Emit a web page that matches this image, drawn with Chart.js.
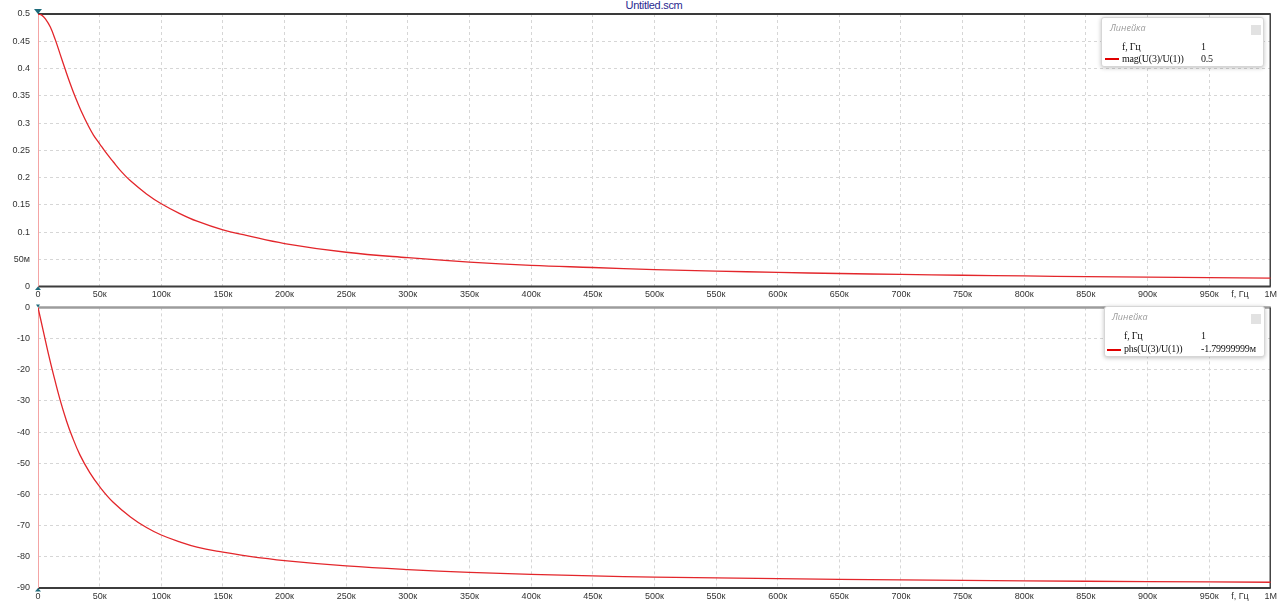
<!DOCTYPE html>
<html><head><meta charset="utf-8">
<script src="https://cdn.jsdelivr.net/npm/chart.js@4.4.1/dist/chart.umd.min.js"></script>
<style>
html,body{margin:0;padding:0;background:#fff;width:1280px;height:604px;overflow:hidden;position:relative;font-family:"Liberation Sans",Arial,sans-serif}
canvas{position:absolute;left:0}
#c1{top:0}
#c2{top:294px}
.title{position:absolute;left:0;width:1308px;text-align:center;top:-2px;font-size:11px;line-height:14px;letter-spacing:-0.3px;color:#2a2a90}
.box{position:absolute;box-sizing:border-box;background:#fff;border:1px solid #d6d6d6;border-radius:3px;box-shadow:0 1px 4px rgba(0,0,0,.25);font-family:"Liberation Serif","Times New Roman",serif;font-size:10px;letter-spacing:-0.2px;color:#111}
.hdr{position:absolute;font-family:"Open Sans",sans-serif;font-size:9px;line-height:12px;color:#9a9a9a;font-style:italic;letter-spacing:0}
.cls{position:absolute;width:10px;height:10px;background:#e2e2e2}
.row{position:absolute;white-space:nowrap;line-height:12px}
.ln{position:absolute;height:2px;width:14px;background:#e00000}
</style></head>
<body>
<div class="title">Untitled.scm</div>
<canvas id="c1" width="1280" height="300"></canvas>
<canvas id="c2" width="1280" height="310"></canvas>

<div class="box" style="left:1101px;top:17px;width:163px;height:50px">
  <div class="hdr" style="left:8px;top:4px">Линейка</div>
  <div class="cls" style="left:149px;top:7px"></div>
  <div class="row" style="left:20px;top:23px">f, Гц</div>
  <div class="row" style="left:99px;top:23px">1</div>
  <div class="ln" style="left:3px;top:40px"></div>
  <div class="row" style="left:20px;top:35px">mag(U(3)/U(1))</div>
  <div class="row" style="left:99px;top:35px">0.5</div>
</div>
<div class="box" style="left:1104px;top:306px;width:161px;height:51px">
  <div class="hdr" style="left:7px;top:4px">Линейка</div>
  <div class="cls" style="left:146px;top:7px"></div>
  <div class="row" style="left:19px;top:23px">f, Гц</div>
  <div class="row" style="left:96px;top:23px">1</div>
  <div class="ln" style="left:2px;top:42px"></div>
  <div class="row" style="left:19px;top:36px">phs(U(3)/U(1))</div>
  <div class="row" style="left:96px;top:36px">-1.79999999м</div>
</div>

<script>
// ---- data ----
const freqMagKHz = [0, 3, 6, 10, 14, 18, 22, 26, 30, 35, 41, 45, 50, 55, 61, 68, 75, 88, 100, 115, 129, 150, 169, 200, 250, 300, 350, 400, 450, 500, 550, 600, 650, 700, 750, 800, 850, 900, 950, 1000];
const magValues  = [0.500, 0.498, 0.491, 0.476, 0.453, 0.426, 0.399, 0.373, 0.349, 0.322, 0.294, 0.278, 0.262, 0.246, 0.229, 0.210, 0.194, 0.170, 0.152, 0.134, 0.120, 0.104, 0.094, 0.079, 0.063, 0.053, 0.045, 0.039, 0.035, 0.031, 0.0285, 0.026, 0.024, 0.0223, 0.0208, 0.0195, 0.0184, 0.0173, 0.0164, 0.0156];

const freqPhsKHz = [0, 4.3, 8.4, 12.4, 17.8, 23.2, 27.3, 34, 42, 50, 61, 75, 88, 100, 115, 129, 150, 169, 200, 250, 300, 350, 400, 450, 500, 600, 700, 800, 900, 1000];
const phsValues  = [0, -7.6, -14.8, -21.3, -29.5, -36.5, -41, -47.3, -53, -57.5, -62.5, -67.2, -70.6, -73, -75.2, -76.9, -78.5, -79.7, -81.2, -82.9, -84.1, -85, -85.6, -86.1, -86.5, -87, -87.4, -87.7, -87.95, -88.15];

const xTickValues = [0, 50000, 100000, 150000, 200000, 250000, 300000, 350000, 400000, 450000, 500000, 550000, 600000, 650000, 700000, 750000, 800000, 850000, 900000, 950000, 975000, 1000000];
const xTickLabels = ['0', '50к', '100к', '150к', '200к', '250к', '300к', '350к', '400к', '450к', '500к', '550к', '600к', '650к', '700к', '750к', '800к', '850к', '900к', '950к', 'f, Гц', '1M'];

const magTickValues = [0, 0.05, 0.1, 0.15, 0.2, 0.25, 0.3, 0.35, 0.4, 0.45, 0.5];
const magTickLabels = ['0', '50м', '0.1', '0.15', '0.2', '0.25', '0.3', '0.35', '0.4', '0.45', '0.5'];

const phsTickValues = [0, -10, -20, -30, -40, -50, -60, -70, -80, -90];
const phsTickLabels = ['0', '-10', '-20', '-30', '-40', '-50', '-60', '-70', '-80', '-90'];

// ---- helpers ----
const FONT = {family: '"Liberation Sans", Arial, sans-serif', size: 9};
const GRID = '#d6d6d6';
const CLEAR = 'rgba(0,0,0,0)';

function xScale(h) {
  return {
    type: 'linear', min: 0, max: 1000000,
    afterBuildTicks: s => { s.ticks = xTickValues.map(v => ({value: v})); },
    afterFit: s => { s.height = h; },
    grid: {drawTicks: false, lineWidth: 1,
      color: c => (c.tick && [0, 975000, 1000000].includes(c.tick.value)) ? CLEAR : GRID},
    border: {display: false, dash: [3, 3]},
    ticks: {autoSkip: false, maxRotation: 0, minRotation: 0, padding: 3, font: FONT, color: '#333',
      callback: v => xTickLabels[xTickValues.indexOf(v)]}
  };
}
function yScale(vals, labels, min, max) {
  return {
    type: 'linear', min: min, max: max,
    afterBuildTicks: s => { s.ticks = vals.map(v => ({value: v})); },
    afterFit: s => { s.width = 38; },
    grid: {drawTicks: false, lineWidth: 1,
      color: c => (c.tick && (c.tick.value === min || c.tick.value === max)) ? CLEAR : GRID},
    border: {display: false, dash: [3, 3]},
    ticks: {autoSkip: false, padding: 8, font: FONT, color: '#333',
      callback: v => labels[vals.indexOf(v)]}
  };
}
function framePlugin(topColor, topW, topMark) {
  return {
    id: 'frame',
    beforeDatasetsDraw(chart) {
      const {ctx, chartArea: a} = chart;
      ctx.save();
      const seg = (x1, y1, x2, y2, col, w) => {
        ctx.beginPath(); ctx.strokeStyle = col; ctx.lineWidth = w;
        ctx.moveTo(x1, y1); ctx.lineTo(x2, y2); ctx.stroke();
      };
      seg(a.left, a.top, a.right, a.top, topColor, topW);
      seg(a.right - 0.5, a.top, a.right - 0.5, a.bottom, '#444', 1.5);
      seg(a.left, a.bottom, a.right, a.bottom, '#3c3c3c', 2);
      seg(a.left + 0.5, a.top, a.left + 0.5, a.bottom, '#f4a4a4', 1);
      ctx.restore();
    },
    afterDraw(chart) {
      const {ctx, chartArea: a} = chart;
      ctx.save();
      ctx.fillStyle = '#1d6b7b';
      ctx.beginPath();
      ctx.moveTo(a.left - topMark, a.top - topMark - 1); ctx.lineTo(a.left + topMark, a.top - topMark - 1); ctx.lineTo(a.left, a.top); ctx.closePath(); ctx.fill();
      ctx.beginPath();
      ctx.moveTo(a.left - 3, a.bottom + 3.5); ctx.lineTo(a.left + 3, a.bottom + 3.5); ctx.lineTo(a.left, a.bottom); ctx.closePath(); ctx.fill();
      ctx.restore();
    }
  };
}
function makeChart(id, xs, ys, yOpts, pad, xH, topColor, topW, topMark) {
  return new Chart(document.getElementById(id), {
    type: 'line',
    data: {datasets: [{
      data: xs.map((f, i) => ({x: f * 1000, y: ys[i]})),
      borderColor: '#e3262b', borderWidth: 1.3, pointRadius: 0,
      tension: 0.4, fill: false
    }]},
    options: {
      responsive: false, animation: false, devicePixelRatio: 1,
      layout: {padding: {top: pad, right: 7, left: 0, bottom: 0}},
      plugins: {legend: {display: false}, tooltip: {enabled: false}, title: {display: false}},
      scales: {x: xScale(xH), y: yOpts}
    },
    plugins: [framePlugin(topColor, topW, topMark)]
  });
}

makeChart('c1', freqMagKHz, magValues, yScale(magTickValues, magTickLabels, 0, 0.5), 14, 13, '#3a3a3a', 2, 4);
makeChart('c2', freqPhsKHz, phsValues, yScale(phsTickValues, phsTickLabels, -90, 0), 8, 16, '#9c9c9c', 2.5, 2);
</script>
</body></html>
